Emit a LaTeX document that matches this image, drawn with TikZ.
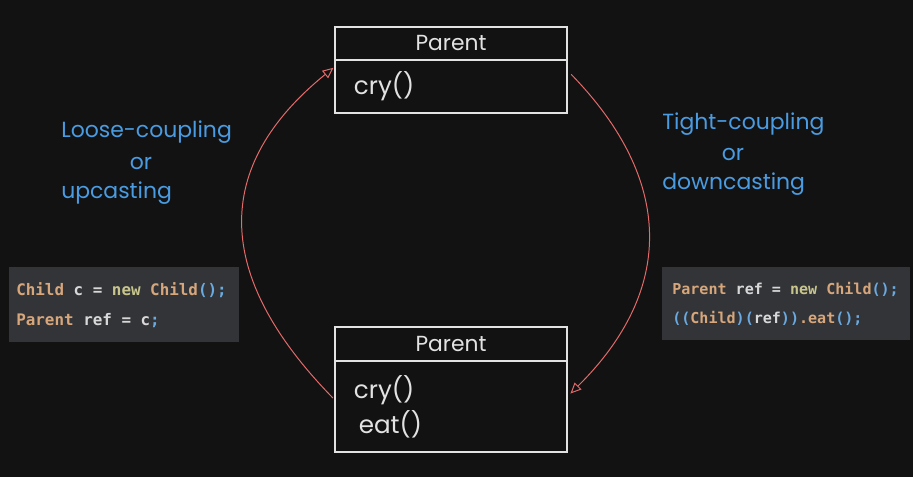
\documentclass[tikz,border=0pt]{standalone}
\usepackage{fontspec}
\setmainfont{Poppins}
\setmonofont{DejaVu Sans Mono}
\usetikzlibrary{arrows.meta,positioning}

\definecolor{bgdark}{HTML}{121212}
\definecolor{boxline}{HTML}{E2E2E2}
\definecolor{codebg}{HTML}{323438}
\definecolor{labelblue}{HTML}{4A9CE2}
\definecolor{castred}{HTML}{E66A6A}
\definecolor{codetype}{HTML}{D7A67B}
\definecolor{codenew}{HTML}{C8C58C}
\definecolor{codepunct}{HTML}{6AAAE0}
\definecolor{codeplain}{HTML}{D8D8D8}

\newcommand{\ctype}[1]{\textcolor{codetype}{#1}}
\newcommand{\cnew}[1]{\textcolor{codenew}{#1}}
\newcommand{\cpunct}[1]{\textcolor{codepunct}{#1}}
\newcommand{\codespacing}{\spaceskip=0.6021em\relax}

\tikzset{
	classhead/.style={draw=boxline, line width=1.6pt, outer sep=0pt, inner sep=0pt,
		minimum width=5.8cm, text=boxline, font=\fontsize{15.5}{18}\selectfont},
	classbody/.style={draw=boxline, line width=1.6pt, outer sep=0pt, inner xsep=0.475cm,
		inner ysep=0pt, minimum width=5.8cm, text width=4.85cm, align=left,
		text=boxline, font=\fontsize{17.5}{24.8}\selectfont},
	castarrow/.style={draw=castred, line width=0.7pt,
		-{Triangle[open, length=0.27cm, width=0.24cm]}},
	castlabel/.style={text=labelblue, anchor=west, inner sep=0pt,
		font=\fontsize{15.6}{18}\selectfont},
	codebox/.style={fill=codebg, anchor=north west, inner ysep=0pt, align=left,
		text=codeplain},
}

\begin{document}
\begin{tikzpicture}[x=0.025cm, y=-0.025cm]
	\fill[bgdark] (0,0) rectangle (913,477);
	\useasboundingbox (0,0) rectangle (913,477);
	%\draw[help lines] (0,0) grid[step=50] (913,477);

	% upper class box
	\node[classhead, minimum height=0.825cm] (tophead) at (451,43.5) {Parent};
	\node[classbody, minimum height=1.325cm, below=0pt of tophead] (topbody) {cry()};

	% lower class box
	\node[classhead, minimum height=0.85cm] (bothead) at (451,344) {Parent};
	\node[classbody, minimum height=2.275cm, below=0pt of bothead] (botbody) {cry()\\\hspace{0.12cm}eat()};

	% casts
	\draw[castarrow, shorten <=0.075cm, shorten >=0.05cm] ([yshift=0.16cm]botbody.west)
		.. controls +(-122,-125) and +(-123,100) .. ([yshift=0.5cm]topbody.west);
	\draw[castarrow, shorten <=0.15cm, shorten >=0.12cm] ([yshift=0.41cm]topbody.east)
		.. controls +(107,110) and +(108,-107) .. ([yshift=0.24cm]botbody.east);

	% labels
	\node[castlabel] (looseA) at (61,132) {Loose-coupling};
	\node[castlabel, anchor=center] (looseB) at (141,163) {or};
	\node[castlabel] (looseC) at (61,193) {upcasting};
	\node[castlabel] (tightA) at (662,124) {Tight-coupling};
	\node[castlabel, anchor=center] (tightB) at (733,154) {or};
	\node[castlabel] (tightC) at (662,184) {downcasting};

	% code
	\node[codebox, minimum width=5.75cm, minimum height=1.875cm, inner xsep=0.175cm,
		text width=5.4cm, font=\ttfamily\bfseries\fontsize{11.3}{21.3}\selectfont] (upcode) at (9,267)
		{\codespacing\ctype{Child} c = \cnew{new} \ctype{Child}\cpunct{();}\\
		\ctype{Parent} ref = c\cpunct{;}};
	\node[codebox, minimum width=6.2cm, minimum height=1.825cm, inner xsep=0.25cm,
		text width=5.7cm, font=\ttfamily\bfseries\fontsize{10.7}{20.6}\selectfont] (downcode) at (662,267)
		{\codespacing\ctype{Parent} ref = \cnew{new} \ctype{Child}\cpunct{();}\\
		\cpunct{((}\ctype{Child}\cpunct{)(}ref\cpunct{))}\ctype{.eat}\cpunct{();}};
\end{tikzpicture}
\end{document}
